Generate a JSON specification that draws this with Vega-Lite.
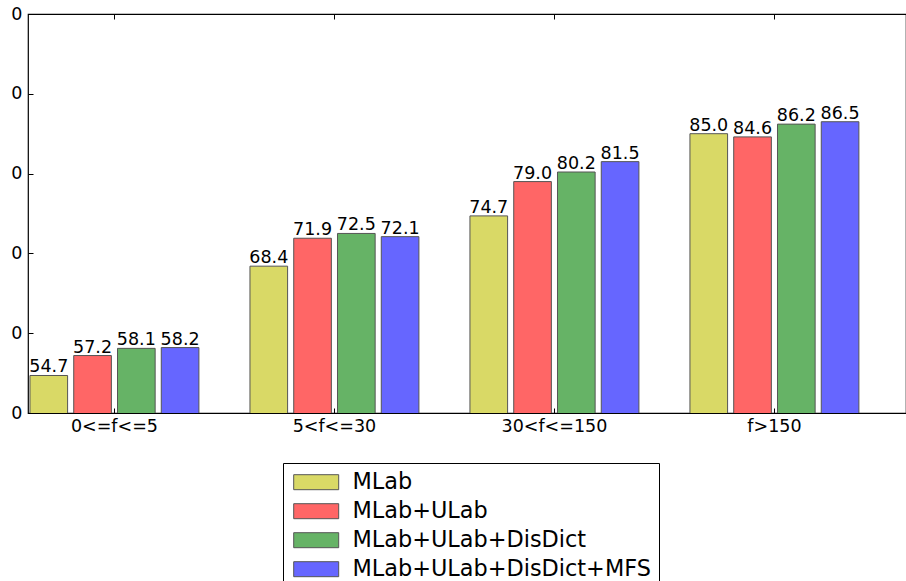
{
  "$schema": "https://vega.github.io/schema/vega-lite/v6.json",
  "width": 878,
  "height": 399,
  "autosize": {"type": "none"},
  "padding": {"left": 28, "top": 14, "right": 0, "bottom": 168},
  "config": {
    "font": "DejaVu Sans",
    "view": {"stroke": "black", "strokeWidth": 1.2},
    "axis": {"grid": false, "domain": false, "labelColor": "black", "tickColor": "black", "labelFont": "DejaVu Sans"}
  },
  "data": {
    "values": [
      {"bin": "0<=f<=5", "method": "MLab", "acc": 54.7},
      {"bin": "0<=f<=5", "method": "MLab+ULab", "acc": 57.2},
      {"bin": "0<=f<=5", "method": "MLab+ULab+DisDict", "acc": 58.1},
      {"bin": "0<=f<=5", "method": "MLab+ULab+DisDict+MFS", "acc": 58.2},
      {"bin": "5<f<=30", "method": "MLab", "acc": 68.4},
      {"bin": "5<f<=30", "method": "MLab+ULab", "acc": 71.9},
      {"bin": "5<f<=30", "method": "MLab+ULab+DisDict", "acc": 72.5},
      {"bin": "5<f<=30", "method": "MLab+ULab+DisDict+MFS", "acc": 72.1},
      {"bin": "30<f<=150", "method": "MLab", "acc": 74.7},
      {"bin": "30<f<=150", "method": "MLab+ULab", "acc": 79.0},
      {"bin": "30<f<=150", "method": "MLab+ULab+DisDict", "acc": 80.2},
      {"bin": "30<f<=150", "method": "MLab+ULab+DisDict+MFS", "acc": 81.5},
      {"bin": "f>150", "method": "MLab", "acc": 85.0},
      {"bin": "f>150", "method": "MLab+ULab", "acc": 84.6},
      {"bin": "f>150", "method": "MLab+ULab+DisDict", "acc": 86.2},
      {"bin": "f>150", "method": "MLab+ULab+DisDict+MFS", "acc": 86.5}
    ]
  },
  "encoding": {
    "xOffset": {
      "field": "method",
      "type": "nominal",
      "sort": ["MLab", "MLab+ULab", "MLab+ULab+DisDict", "MLab+ULab+DisDict+MFS"],
      "scale": {"paddingInner": 0.14, "paddingOuter": 0}
    },
    "y": {
      "field": "acc",
      "type": "quantitative",
      "scale": {"domain": [50, 100], "nice": false, "zero": false},
      "axis": {
        "title": null,
        "values": [50, 60, 70, 80, 90, 100],
        "labelExpr": "'0'",
        "labelFontSize": 17.5,
        "tickSize": -5,
        "labelPadding": 11
      }
    }
  },
  "layer": [
    {
      "mark": {"type": "bar", "stroke": "#555555", "strokeWidth": 1, "opacity": 1, "clip": true},
      "encoding": {
        "x": {
          "field": "bin",
          "type": "nominal",
          "sort": ["0<=f<=5", "5<f<=30", "30<f<=150", "f>150"],
          "scale": {"paddingInner": 0.232, "paddingOuter": 0.1115, "align": 0.04},
          "axis": {"title": null, "orient": "bottom", "labelAngle": 0, "labelFontSize": 17.5, "tickSize": -5, "labelPadding": 9}
        },
        "color": {
          "field": "method",
          "type": "nominal",
          "sort": ["MLab", "MLab+ULab", "MLab+ULab+DisDict", "MLab+ULab+DisDict+MFS"],
          "scale": {"range": ["#d9d966", "#ff6666", "#66b366", "#6666ff"]},
          "legend": {
            "title": null,
            "orient": "none",
            "legendX": 255,
            "legendY": 449,
            "strokeColor": "black",
            "fillColor": "white",
            "padding": 8,
            "cornerRadius": 0,
            "labelFontSize": 22.4,
            "labelFont": "DejaVu Sans",
            "labelColor": "black",
            "labelLimit": 0,
            "symbolType": "M-3,-1H3V1H-3Z",
            "symbolSize": 225,
            "symbolOffset": 14,
            "symbolStrokeColor": "#555555",
            "symbolStrokeWidth": 1,
            "symbolOpacity": 1,
            "labelOffset": 25,
            "rowPadding": 6
          }
        }
      }
    },
    {
      "mark": {"type": "text", "baseline": "alphabetic", "dy": -3, "fontSize": 17.5, "color": "black"},
      "encoding": {
        "x": {
          "field": "bin",
          "type": "nominal",
          "sort": ["0<=f<=5", "5<f<=30", "30<f<=150", "f>150"],
          "scale": {"paddingInner": 0.232, "paddingOuter": 0.1115, "align": 0.04},
          "axis": {"title": null, "orient": "top", "labels": false, "tickSize": -5}
        },
        "text": {"field": "acc", "type": "quantitative", "format": ".1f"}
      }
    }
  ],
  "resolve": {"axis": {"x": "independent"}}
}
